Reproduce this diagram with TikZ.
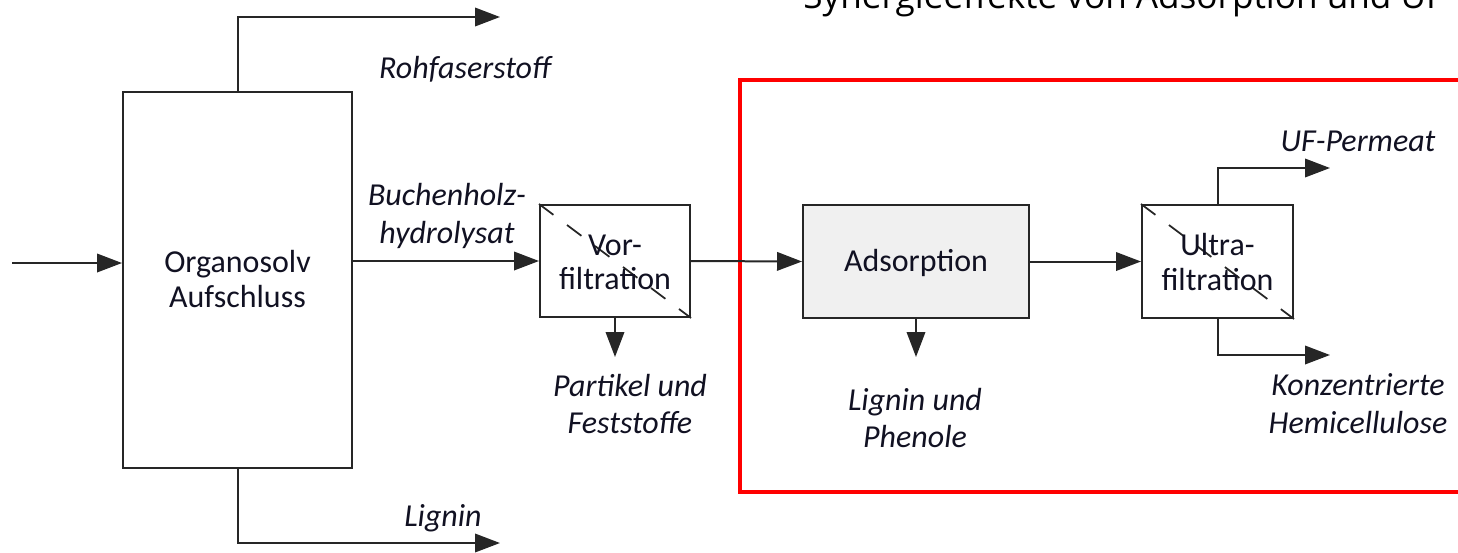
\documentclass[tikz,border=0pt]{standalone}
\usepackage{fontspec}
\setmainfont{Carlito}
\newfontfamily\titlefont{Open Sans}
\usetikzlibrary{arrows.meta}
\definecolor{lineclr}{HTML}{262626}
\definecolor{txtclr}{HTML}{111122}
\definecolor{adsfill}{HTML}{F0F0F0}
\tikzset{
  box/.style={draw=lineclr, line width=0.04cm, fill=white, inner sep=0pt,
    font=\fontsize{18.2}{19.5}\selectfont, text=txtclr, align=center},
  flow/.style={draw=lineclr, line width=0.04cm, -{Triangle[length=0.5cm,width=0.37cm]}},
  lbl/.style={font=\fontsize{18.2}{21.6}\selectfont\itshape, text=txtclr, align=center, inner sep=0pt},
  diag/.style={draw=lineclr, line width=0.035cm, dash pattern=on 0.36cm off 0.34cm},
}
\begin{document}
\begin{tikzpicture}[x=0.02cm, y=-0.02cm]
\useasboundingbox (0,0) rectangle (1458,552);
% title (clipped at top)
\node[anchor=base west, inner sep=0pt, font=\titlefont\fontsize{20}{24}\selectfont, text=black] (title) at (803,8) {Synergieeffekte von Adsorption und UF};
% red frame
\draw[red, line width=0.08cm] (1470,80) -- (740,80) -- (740,492) -- (1470,492);
% boxes
\node[box, minimum width=4.58cm, minimum height=7.52cm] (org) at (237.5,280) {};
\node[box, minimum width=3.0cm, minimum height=2.24cm] (vor) at (615,261) {};
\node[box, fill=adsfill, minimum width=4.52cm, minimum height=2.26cm] (ads) at (916,261.5) {};
\node[box, minimum width=3.02cm, minimum height=2.26cm] (uf) at (1217.5,261.5) {};
% diagonal dashed membranes
\draw[diag] (vor.north west) -- (vor.south east);
\draw[diag] (uf.north west) -- (uf.south east);
% box texts
\node[box, draw=none, fill=none] (orgtxt) at (237.5,279) {Organosolv\\Aufschluss};
\node[box, draw=none, fill=none] (adstxt) at (916,263) {Adsorption};
\node[box, draw=none, fill=none] (vortxt) at (615,262) {Vor-\\filtration};
\node[box, draw=none, fill=none] (uftxt) at (1217.5,262) {Ultra-\\filtration};
% free ends
\coordinate (in) at (12,263);
\coordinate (rohend) at (500,17);
\coordinate (ligend) at (500,543);
\coordinate (vordown) at (615,357);
\coordinate (adsdown) at (916,357);
\coordinate (ufpend) at (1330,168);
\coordinate (ufkend) at (1330,355);
% connectors
\draw[flow] (in) -- (in -| org.west);
\draw[flow] (org.north) |- (rohend);
\draw[flow] (org.south) |- (ligend);
\draw[flow] (org.east |- vor.west) -- (vor.west);
\draw[flow] (vor.south) -- (vordown);
\draw[flow] (vor.east) -- (ads.west);
\draw[flow] (ads.south) -- (adsdown);
\draw[flow] (ads.east) -- (uf.west);
\draw[flow] (uf.north) |- (ufpend);
\draw[flow] (uf.south) |- (ufkend);
% labels
\node[lbl] (lroh) at (465,69) {Rohfaserstoff};
\node[lbl] (lbuch) at (447,216) {Buchenholz-\\hydrolysat};
\node[lbl] (lpart) at (630,404) {Partikel und\\Feststoffe};
\node[lbl] (lligph) at (915,418) {Lignin und\\Phenole};
\node[lbl] (lufp) at (1358,141) {UF-Permeat};
\node[lbl] (lkonz) at (1358,404) {Konzentrierte\\Hemicellulose};
\node[lbl] (llig) at (443,518) {Lignin};
\end{tikzpicture}
\end{document}
